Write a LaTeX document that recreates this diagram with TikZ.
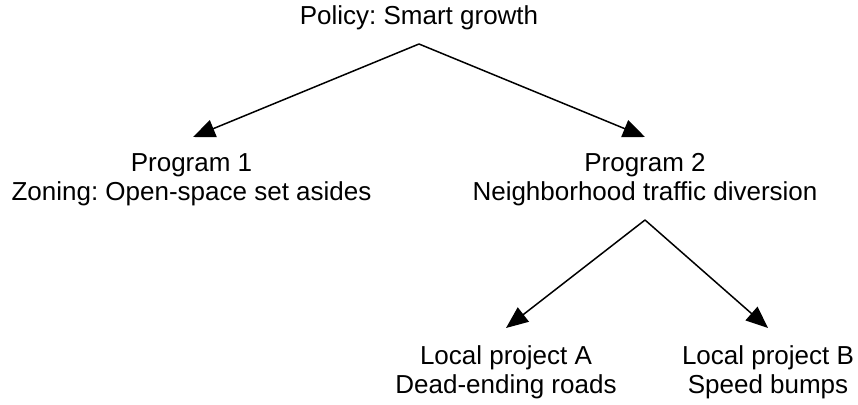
\documentclass[tikz,border=0pt]{standalone}
\usepackage{fontspec}
\setmainfont{Liberation Sans}
\usetikzlibrary{arrows.meta}
\frenchspacing
\begin{document}
\begin{tikzpicture}[x=1pt,y=-1pt,
  lbl/.style={font=\fontsize{26pt}{29pt}\selectfont, align=center, inner sep=0pt},
  arr/.style={line width=1.5pt, -{Triangle[length=22pt,width=18pt]}}]
\useasboundingbox (0,0) rectangle (858,404);
\node[lbl] (policy) at (419,18) {Policy: Smart growth};
\node[lbl] (prog1) at (191.5,180) {Program 1\\Zoning: Open-space set asides};
\node[lbl] (prog2) at (645,180) {Program 2\\Neighborhood traffic diversion};
\node[lbl] (locA) at (506,372) {Local project A\\Dead-ending roads};
\node[lbl] (locB) at (768,372) {Local project B\\Speed bumps};
\coordinate (top1) at (419,44);
\coordinate (top2) at (645,220);
\coordinate (tipP1) at (193,137);
\coordinate (tipP2) at (645,137);
\coordinate (tipA) at (506,328);
\coordinate (tipB) at (768,328);
\draw[arr] (top1) -- (tipP1);
\draw[arr] (top1) -- (tipP2);
\draw[arr] (top2) -- (tipA);
\draw[arr] (top2) -- (tipB);
\end{tikzpicture}
\end{document}
